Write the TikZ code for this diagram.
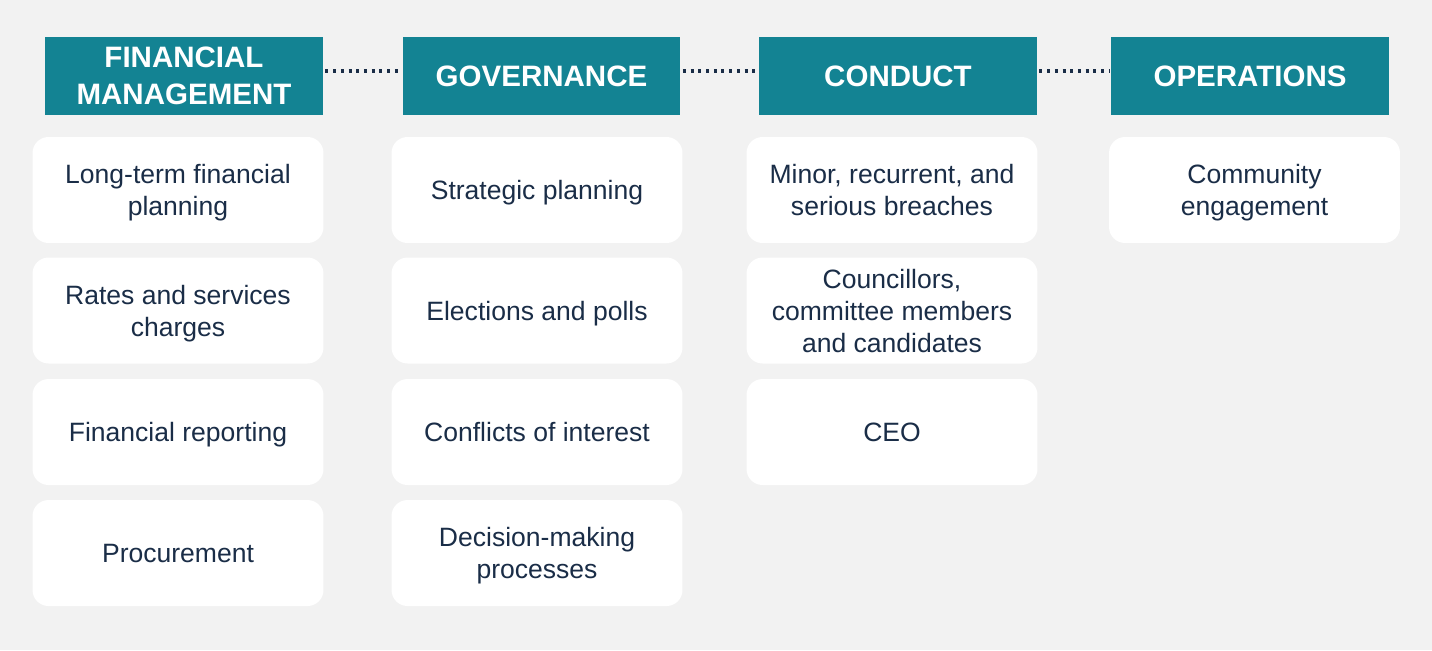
\documentclass[tikz,border=0pt]{standalone}
\usepackage{fontspec}
\setmainfont{Liberation Sans}
\usetikzlibrary{positioning,calc}
\definecolor{Back}{HTML}{F2F2F2}
\definecolor{Teal}{HTML}{138393}
\definecolor{Navy}{HTML}{1A2D47}
\tikzset{
 head/.style={fill=Teal,text=white,align=center,minimum width=5.56cm,minimum height=1.56cm,inner sep=0pt,font=\fontsize{16.8}{21}\selectfont\bfseries},
 item/.style={fill=white,text=Navy,rounded corners=0.32cm,align=center,minimum width=5.82cm,minimum height=2.12cm,inner sep=0pt,text depth=0pt,font=\fontsize{15.1}{18.2}\selectfont},
 dots/.style={draw=Navy,line width=1.8pt,dash pattern=on 1.7pt off 2.7pt}
}
\begin{document}
\begin{tikzpicture}[x=0.02cm,y=-0.02cm]
\fill[Back] (0,0) rectangle (1432,650);
\useasboundingbox (0,0) rectangle (1432,650);
% Column headers.
\node[head] (fm) at (184,76) {FINANCIAL\\MANAGEMENT};
\node[head] (gov) at (541.5,76) {GOVERNANCE};
\node[head] (cond) at (898,76) {CONDUCT};
\node[head] (ops) at (1250,76) {OPERATIONS};
\draw[dots] ($(fm.east)+(2,-5)$) -- ($(gov.west)+(-1,-5)$);
\draw[dots] ($(gov.east)+(2,-5)$) -- ($(cond.west)+(-1,-5)$);
\draw[dots] ($(cond.east)+(2,-5)$) -- ($(ops.west)+(-1,-5)$);
% Financial management.
\foreach \n/\y/\txt in {1/190/{Long-term financial\\planning},2/310.5/{Rates and services\\charges},3/432/{Financial reporting},4/553/{Procurement}} {
 \node[item] (fm\n) at (178,\y) {\txt};
}
% Governance.
\foreach \n/\y/\txt in {1/190/{Strategic planning},2/310.5/{Elections and polls},3/432/{Conflicts of interest},4/553/{Decision-making\\processes}} {
 \node[item] (gov\n) at (537,\y) {\txt};
}
% Conduct.
\foreach \n/\y/\txt in {1/190/{Minor, recurrent, and\\serious breaches},2/310.5/{Councillors,\\committee members\\and candidates},3/432/{CEO}} {
 \node[item] (cond\n) at (892,\y) {\txt};
}
% Operations.
\node[item] (ops1) at (1254.5,190) {Community\\engagement};
\end{tikzpicture}
\end{document}
